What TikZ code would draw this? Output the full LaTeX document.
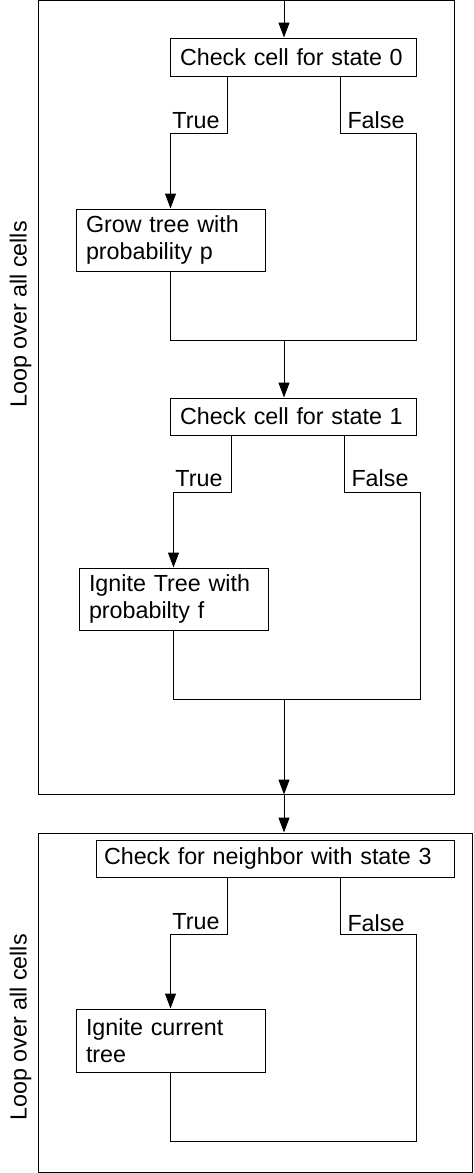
\documentclass[tikz,border=0pt]{standalone}
\usepackage{fontspec}
\setmainfont{Liberation Sans}
\usetikzlibrary{arrows.meta}
\begin{document}
\begin{tikzpicture}[x=1pt,y=-1pt,
  line width=1pt,
  txt/.style={font=\fontsize{23.3pt}{27.5pt}\selectfont},
  box/.style={txt,draw,inner xsep=10pt,inner ysep=0pt,align=left},
  loopbox/.style={draw,inner sep=0pt},
  lbl/.style={txt,inner sep=0pt},
  arr/.style={-{Triangle[length=15pt,width=11pt]}}]
\useasboundingbox (0,0) rectangle (474,1173);
% loop frames
\node[loopbox,minimum width=416pt,minimum height=793.5pt] (L1) at (246,397.25) {};
\node[loopbox,minimum width=434pt,minimum height=339pt] (L2) at (255,1002.5) {};
\node[lbl,rotate=90,anchor=base] (lp1) at (26.7,314.5) {Loop over all cells};
\node[lbl,rotate=90,anchor=base] (lp2) at (26.7,1027.5) {Loop over all cells};
% boxes
\node[box,minimum width=246pt,minimum height=38pt,text width=226pt] (c0) at (293,57) {\mbox{Check cell for state 0}};
\node[box,minimum width=189pt,minimum height=62pt,text width=169pt] (grow) at (170.5,240) {Grow tree with\\probability p};
\node[box,minimum width=246pt,minimum height=37pt,text width=226pt] (c1) at (293,416.5) {\mbox{Check cell for state 1}};
\node[box,minimum width=189pt,minimum height=62pt,text width=169pt] (ign) at (173.5,599) {\mbox{Ignite Tree with}\\probabilty f};
\node[box,inner xsep=8pt,minimum width=358pt,minimum height=37pt,text width=342pt] (c3) at (275,858.5) {\mbox{Check for neighbor with state 3}};
\node[box,minimum width=189pt,minimum height=63pt,text width=169pt] (igc) at (170.5,1040.5) {Ignite current\\tree};
% coordinates
\coordinate (top) at (284,0);
\coordinate (t0) at (227,133);
\coordinate (f0) at (340,133);
\coordinate (r0) at (416,340);
\coordinate (m0) at (284,340);
\coordinate (t1) at (231,492);
\coordinate (f1) at (344,492);
\coordinate (r1) at (420,699);
\coordinate (m1) at (284,699);
\coordinate (t3) at (227,934);
\coordinate (f3) at (340,934);
\coordinate (r3) at (416,1141);
% first check
\draw[arr] (top) -- (top |- c0.north);
\draw[arr] (c0.south -| t0) -- (t0) -| (grow.north);
\draw (c0.south -| f0) -- (f0) -| (r0) -| (grow.south);
\node[lbl,anchor=base east] (lt0) at ([xshift=-7pt,yshift=5pt]t0) {True};
\node[lbl,anchor=base west] (lf0) at ([xshift=7pt,yshift=5pt]f0) {False};
\draw[arr] (m0) -- (m0 |- c1.north);
% second check
\draw[arr] (c1.south -| t1) -- (t1) -| (ign.north);
\draw (c1.south -| f1) -- (f1) -| (r1) -| (ign.south);
\node[lbl,anchor=base east] (lt1) at ([xshift=-8pt,yshift=6pt]t1) {True};
\node[lbl,anchor=base west] (lf1) at ([xshift=7pt,yshift=6pt]f1) {False};
\draw[arr] (m1) -- (m1 |- L1.south);
\draw[arr] (m1 |- L1.south) -- (m1 |- L2.north);
% third check
\draw[arr] (c3.south -| t3) -- (t3) -| (igc.north);
\draw (c3.south -| f3) -- (f3) -| (r3) -| (igc.south);
\node[lbl,anchor=base east] (lt3) at ([xshift=-7pt,yshift=5pt]t3) {True};
\node[lbl,anchor=base west] (lf3) at ([xshift=7pt,yshift=3pt]f3) {False};
\end{tikzpicture}
\end{document}
